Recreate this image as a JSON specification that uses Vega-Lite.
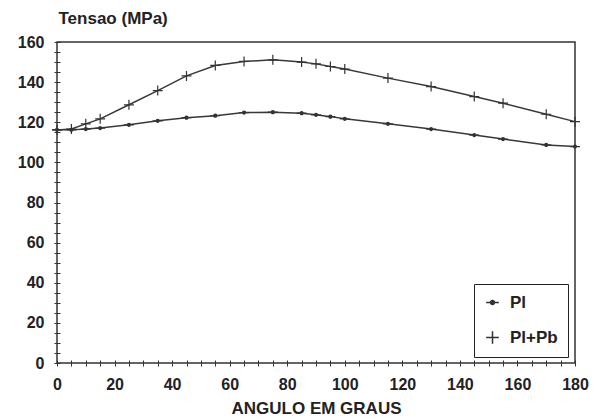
{
  "$schema": "https://vega.github.io/schema/vega-lite/v6.json",
  "width": 518,
  "height": 321,
  "autosize": "none",
  "padding": {"left": 57, "top": 42, "right": 27, "bottom": 56},
  "background": "white",
  "data": {
    "values": [
      {"angle": 0, "stress": 116.2, "series": "Pl+Pb"},
      {"angle": 5, "stress": 116.6, "series": "Pl+Pb"},
      {"angle": 10, "stress": 119.2, "series": "Pl+Pb"},
      {"angle": 15, "stress": 121.7, "series": "Pl+Pb"},
      {"angle": 25, "stress": 128.7, "series": "Pl+Pb"},
      {"angle": 35, "stress": 135.8, "series": "Pl+Pb"},
      {"angle": 45, "stress": 143.1, "series": "Pl+Pb"},
      {"angle": 55, "stress": 148.3, "series": "Pl+Pb"},
      {"angle": 65, "stress": 150.3, "series": "Pl+Pb"},
      {"angle": 75, "stress": 151.1, "series": "Pl+Pb"},
      {"angle": 85, "stress": 150.0, "series": "Pl+Pb"},
      {"angle": 90, "stress": 149.1, "series": "Pl+Pb"},
      {"angle": 95, "stress": 147.8, "series": "Pl+Pb"},
      {"angle": 100, "stress": 146.5, "series": "Pl+Pb"},
      {"angle": 115, "stress": 142.0, "series": "Pl+Pb"},
      {"angle": 130, "stress": 137.8, "series": "Pl+Pb"},
      {"angle": 145, "stress": 132.8, "series": "Pl+Pb"},
      {"angle": 155, "stress": 129.5, "series": "Pl+Pb"},
      {"angle": 170, "stress": 124.0, "series": "Pl+Pb"},
      {"angle": 180, "stress": 120.3, "series": "Pl+Pb"},
      {"angle": 0, "stress": 116.2, "series": "Pl"},
      {"angle": 5, "stress": 116.2, "series": "Pl"},
      {"angle": 10, "stress": 116.6, "series": "Pl"},
      {"angle": 15, "stress": 117.1, "series": "Pl"},
      {"angle": 25, "stress": 118.7, "series": "Pl"},
      {"angle": 35, "stress": 120.7, "series": "Pl"},
      {"angle": 45, "stress": 122.3, "series": "Pl"},
      {"angle": 55, "stress": 123.3, "series": "Pl"},
      {"angle": 65, "stress": 124.8, "series": "Pl"},
      {"angle": 75, "stress": 125.0, "series": "Pl"},
      {"angle": 85, "stress": 124.5, "series": "Pl"},
      {"angle": 90, "stress": 123.7, "series": "Pl"},
      {"angle": 95, "stress": 122.8, "series": "Pl"},
      {"angle": 100, "stress": 121.7, "series": "Pl"},
      {"angle": 115, "stress": 119.2, "series": "Pl"},
      {"angle": 130, "stress": 116.6, "series": "Pl"},
      {"angle": 145, "stress": 113.6, "series": "Pl"},
      {"angle": 155, "stress": 111.6, "series": "Pl"},
      {"angle": 170, "stress": 108.7, "series": "Pl"},
      {"angle": 180, "stress": 107.9, "series": "Pl"}
    ]
  },
  "encoding": {
    "x": {
      "field": "angle",
      "type": "quantitative",
      "scale": {"domain": [0, 180], "nice": false},
      "axis": {
        "title": "ANGULO EM GRAUS",
        "values": [0,5,10,15,20,25,30,35,40,45,50,55,60,65,70,75,80,85,90,95,100,105,110,115,120,125,130,135,140,145,150,155,160,165,170,175,180],
        "labelExpr": "datum.value % 20 === 0 ? datum.label : ''",
        "offset": -3,
        "tickSize": 6,
        "labelPadding": 10,
        "titlePadding": 8,
        "labelFlush": false,
        "labelOverlap": false
      }
    },
    "y": {
      "field": "stress",
      "type": "quantitative",
      "scale": {"domain": [0, 160], "nice": false, "zero": true},
      "axis": {
        "title": "Tensao (MPa)",
        "values": [0,5,10,15,20,25,30,35,40,45,50,55,60,65,70,75,80,85,90,95,100,105,110,115,120,125,130,135,140,145,150,155,160],
        "labelExpr": "datum.value % 20 === 0 ? datum.label : ''",
        "offset": -3,
        "tickSize": 6,
        "labelPadding": 10,
        "labelFlush": false,
        "labelOverlap": false,
        "titleAngle": 0,
        "titleAlign": "left",
        "titleBaseline": "alphabetic",
        "titleX": -2,
        "titleY": -19
      }
    }
  },
  "layer": [
    {
      "mark": {"type": "line", "stroke": "#383838", "strokeWidth": 1.5},
      "encoding": {"detail": {"field": "series"}}
    },
    {
      "mark": {"type": "point", "filled": true, "fill": "#333333", "opacity": 1, "fillOpacity": 1, "size": 100},
      "encoding": {
        "shape": {
          "field": "series",
          "type": "nominal",
          "scale": {
            "domain": ["Pl", "Pl+Pb"],
            "range": [
              "M-1,-0.12H1V0.12H-1Z M0.42,0A0.42,0.42 0 1,1 -0.42,0A0.42,0.42 0 1,1 0.42,0Z",
              "M-1,-0.12H-0.12V-1H0.12V-0.12H1V0.12H0.12V1H-0.12V0.12H-1Z"
            ]
          },
          "legend": {
            "title": null,
            "orient": "none",
            "legendX": 417,
            "legendY": 242,
            "padding": 10,
            "rowPadding": 17,
            "symbolSize": 160,
            "labelOffset": 9,
            "strokeColor": "#222222",
            "fillColor": "white",
            "symbolFillColor": "#333333",
            "labelFontSize": 17,
            "labelFontWeight": "bold",
            "labelFont": "Liberation Sans",
            "labelColor": "#222222",
            "encode": {
              "symbols": {
                "update": {
                  "fill": {"value": "#333333"},
                  "fillOpacity": {"value": 1},
                  "opacity": {"value": 1}
                }
              }
            }
          }
        }
      }
    }
  ],
  "config": {
    "view": {"stroke": "#333333", "strokeWidth": 1.5},
    "axis": {
      "domain": false,
      "grid": false,
      "tickColor": "#333333",
      "tickWidth": 1,
      "labelFont": "Liberation Sans",
      "labelFontSize": 16,
      "labelFontWeight": "bold",
      "labelColor": "#222222",
      "titleFont": "Liberation Sans",
      "titleFontSize": 17,
      "titleFontWeight": "bold",
      "titleColor": "#222222"
    }
  }
}
